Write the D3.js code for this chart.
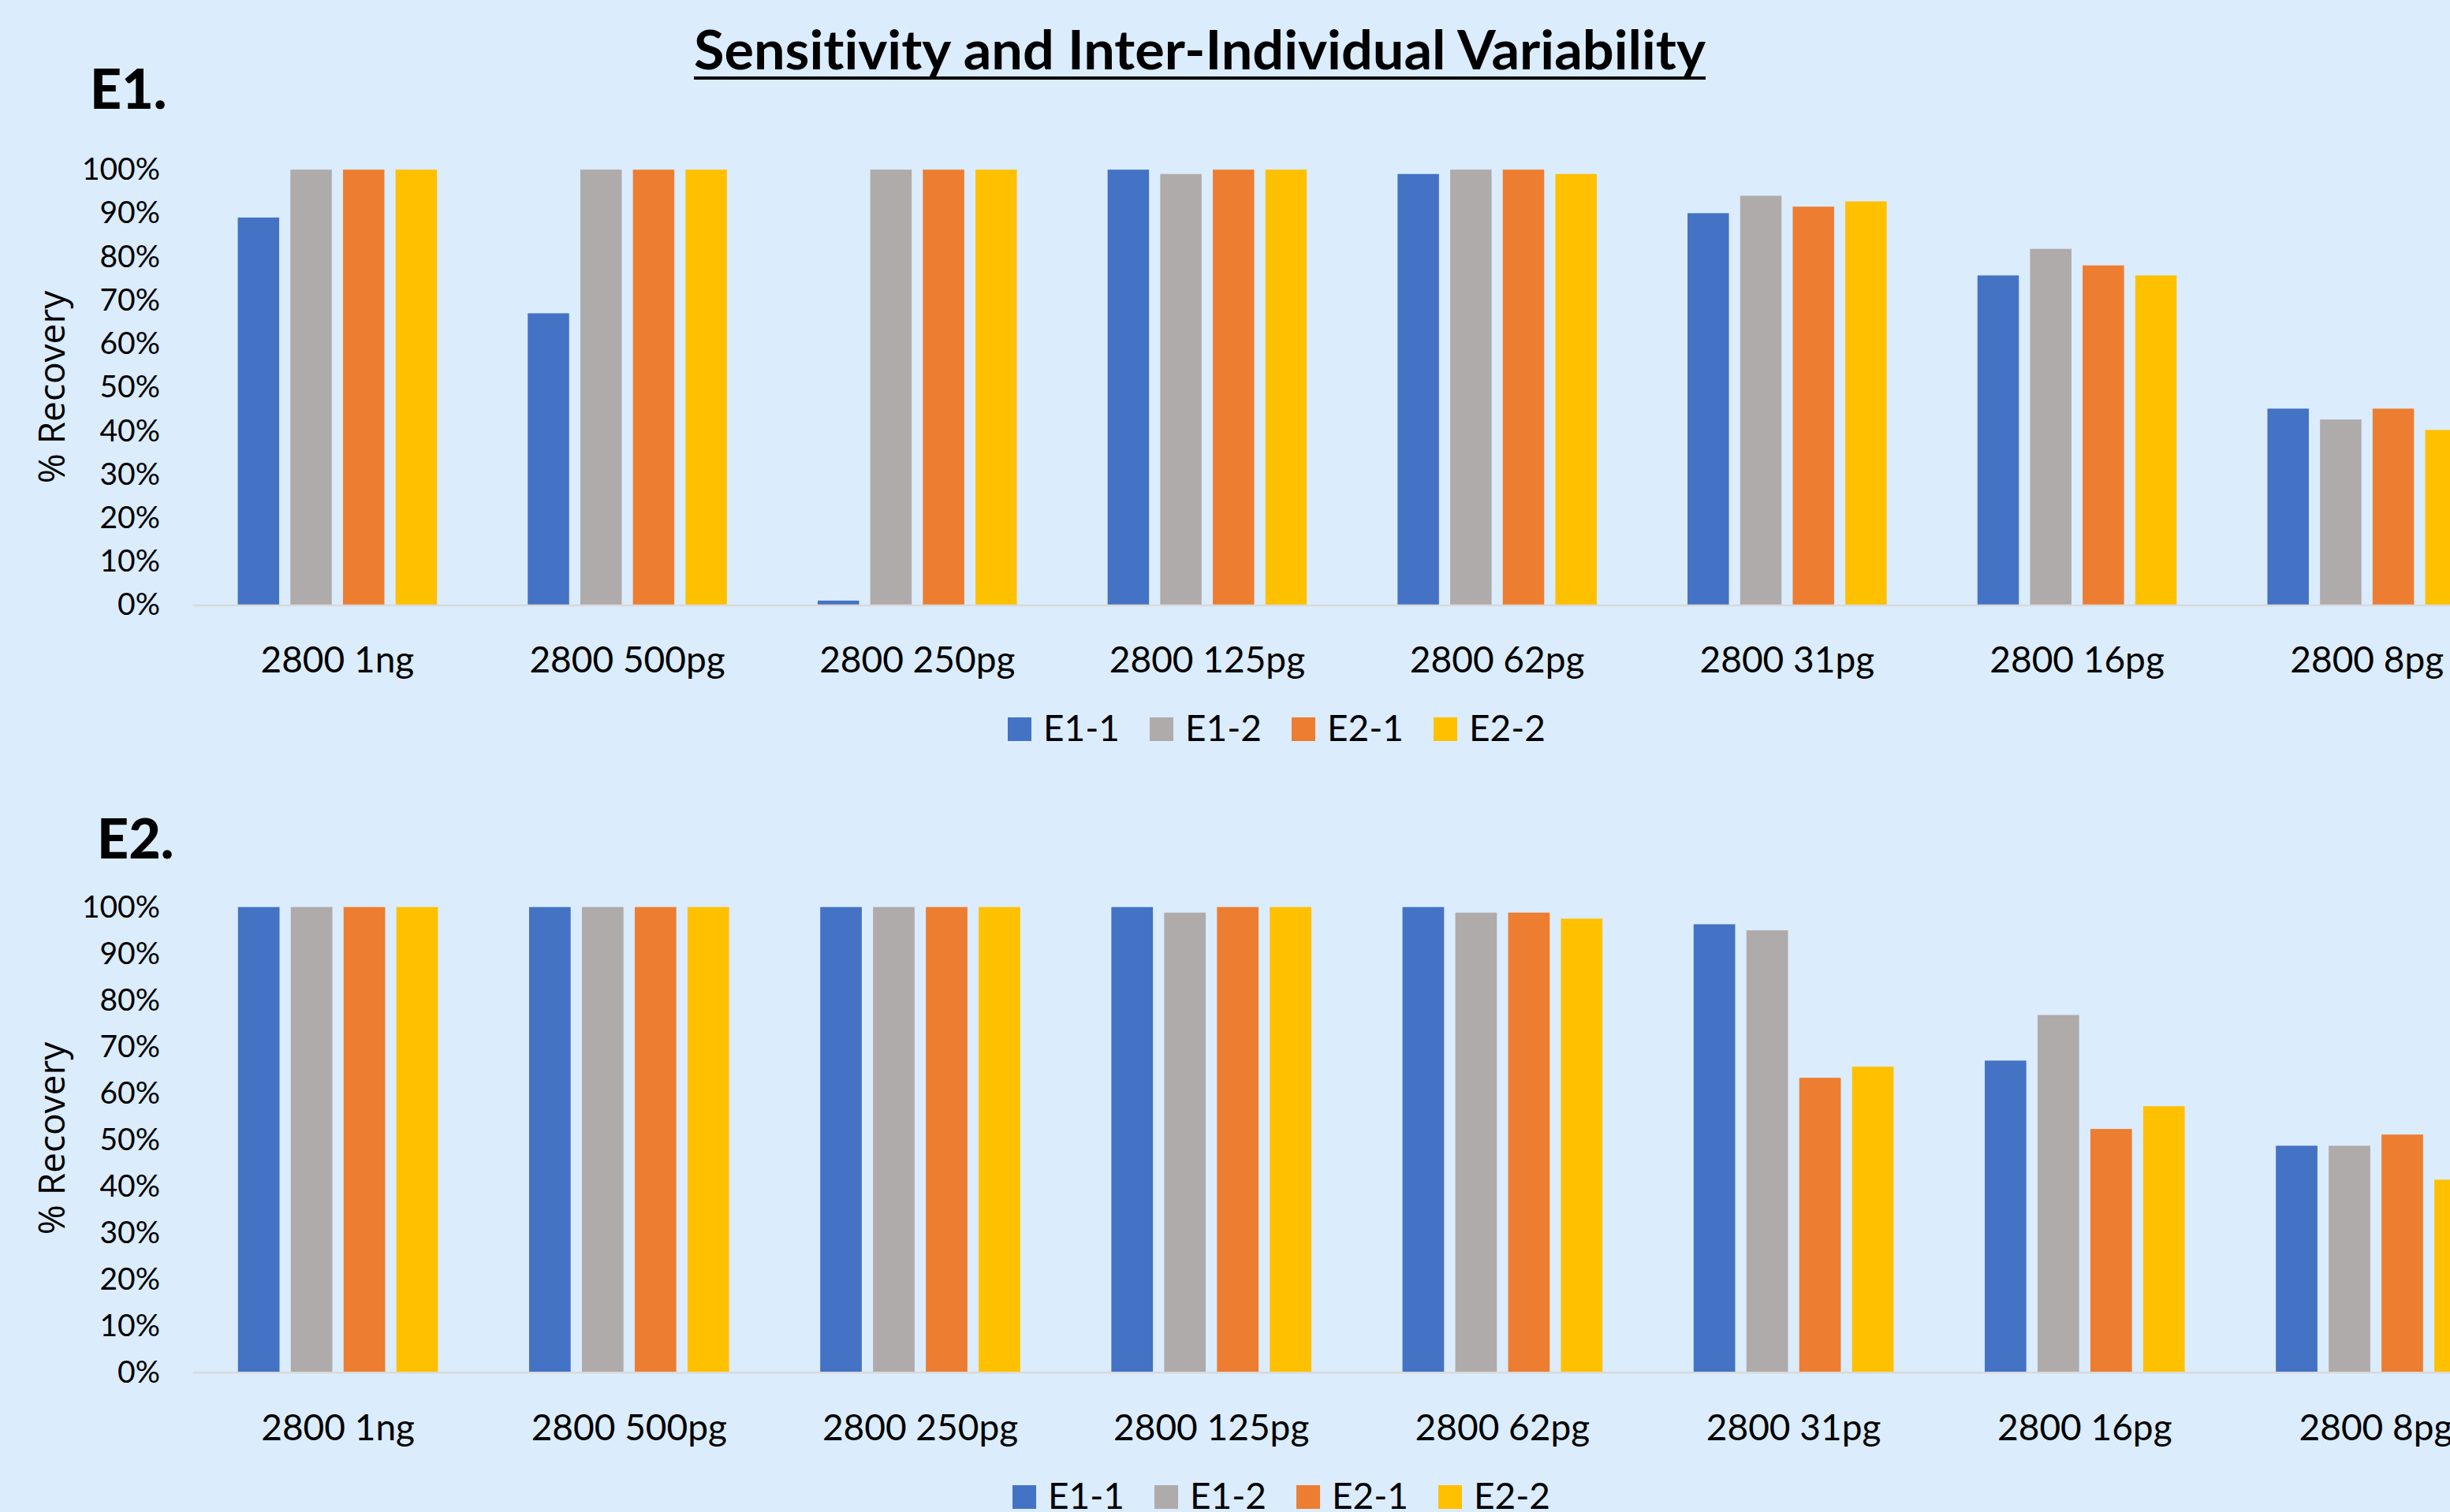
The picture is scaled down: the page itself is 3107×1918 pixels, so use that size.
<!DOCTYPE html>
<html>
<head>
<meta charset="utf-8">
<script src="https://cdn.jsdelivr.net/npm/d3@7"></script>
<style>
  html, body { margin: 0; padding: 0; background: #DBECFC; }
  svg { display: block; }
  text { font-variant-ligatures: none; }
</style>
</head>
<body>
<svg id="chart" width="3107" height="1918"></svg>
<script>
// categories and series
const categories = ["2800 1ng", "2800 500pg", "2800 250pg", "2800 125pg", "2800 62pg", "2800 31pg", "2800 16pg", "2800 8pg"];
const seriesNames = ["E1-1", "E1-2", "E2-1", "E2-2"];
const seriesColors = ["#4472C4", "#AFABAB", "#ED7D31", "#FFC000"];

// % recovery, panel E1 (one array per series, in category order)
const e1_E11 = [0.89, 0.67, 0.01, 1.00, 0.99, 0.90, 0.757, 0.451];
const e1_E12 = [1.00, 1.00, 1.00, 0.99, 1.00, 0.94, 0.818, 0.426];
const e1_E21 = [1.00, 1.00, 1.00, 1.00, 1.00, 0.915, 0.78, 0.451];
const e1_E22 = [1.00, 1.00, 1.00, 1.00, 0.99, 0.927, 0.757, 0.402];

// % recovery, panel E2
const e2_E11 = [1.00, 1.00, 1.00, 1.00, 1.00, 0.963, 0.67, 0.487];
const e2_E12 = [1.00, 1.00, 1.00, 0.988, 0.988, 0.95, 0.768, 0.487];
const e2_E21 = [1.00, 1.00, 1.00, 1.00, 0.988, 0.633, 0.523, 0.511];
const e2_E22 = [1.00, 1.00, 1.00, 1.00, 0.975, 0.657, 0.572, 0.414];

const yTicks = [0, 0.1, 0.2, 0.3, 0.4, 0.5, 0.6, 0.7, 0.8, 0.9, 1.0];

const mainTitle = "Sensitivity and Inter-Individual Variability";
const yLabel = "% Recovery";

// layout of the two panels
const panels = [
  { tag: "E1.", series: [e1_E11, e1_E12, e1_E21, e1_E22],
    top: 215.2, bottom: 767.4, left: 244, step: 367.7,
    tagX: 114, tagY: 138, yLabelY: 491, legendX: 1278, legendY: 910 },
  { tag: "E2.", series: [e2_E11, e2_E12, e2_E21, e2_E22],
    top: 1150.6, bottom: 1740.8, left: 244, step: 369.2,
    tagX: 123, tagY: 1089, yLabelY: 1444, legendX: 1284, legendY: 1884 }
];

const svg = d3.select("#chart");
const W = +svg.attr("width");

svg.append("rect")
  .attr("width", W)
  .attr("height", +svg.attr("height"))
  .attr("fill", "#DBECFC");

// title, squeezed to the width it has in the picture
svg.append("text")
  .attr("x", 1521.5)
  .attr("y", 88)
  .attr("text-anchor", "middle")
  .style("font-family", "Lato, sans-serif")
  .style("font-weight", 700)
  .style("font-size", "68px")
  .attr("textLength", 1283)
  .attr("lengthAdjust", "spacingAndGlyphs")
  .text(mainTitle);

svg.append("line")
  .attr("x1", 880).attr("x2", 2163)
  .attr("y1", 99).attr("y2", 99)
  .attr("stroke", "#000")
  .attr("stroke-width", 4);

panels.forEach(function (p) {
  const g = svg.append("g");

  const x0 = d3.scaleBand()
    .domain(categories)
    .range([p.left, p.left + p.step * categories.length])
    .paddingInner(0.313)
    .paddingOuter(0.1565);

  const x1 = d3.scaleBand()
    .domain(seriesNames)
    .range([0, x0.bandwidth()])
    .paddingInner(0.213);

  const y = d3.scaleLinear()
    .domain([0, 1])
    .range([p.bottom, p.top]);

  // rows of {cat, name, value}
  const rows = categories.map(function (c, i) {
    return seriesNames.map(function (s, j) {
      return { cat: c, name: s, value: p.series[j][i], color: seriesColors[j] };
    });
  });

  // y axis labels only, no line
  const yAxis = g.append("g")
    .attr("transform", "translate(" + p.left + ",0)")
    .call(d3.axisLeft(y).tickValues(yTicks).tickFormat(d3.format(".0%")).tickSize(0).tickPadding(41));
  yAxis.select(".domain").remove();
  yAxis.selectAll("text")
    .attr("dy", "0.32em")
    .style("font-family", "Lato, sans-serif")
    .style("font-size", "39px")
    .attr("fill", "#000");

  // bars
  g.append("g")
    .selectAll("g")
    .data(rows)
    .join("g")
    .attr("transform", d => "translate(" + x0(d[0].cat) + ",0)")
    .selectAll("rect")
    .data(d => d)
    .join("rect")
    .attr("x", d => x1(d.name))
    .attr("y", d => y(d.value))
    .attr("width", x1.bandwidth())
    .attr("height", d => y(0) - y(d.value))
    .attr("fill", d => d.color);

  // category axis
  const xAxis = g.append("g")
    .attr("transform", "translate(0," + p.bottom + ")")
    .call(d3.axisBottom(x0).tickSize(0).tickSizeOuter(0));
  xAxis.select(".domain")
    .attr("stroke", "#D9D9D9")
    .attr("stroke-width", 2.5);
  xAxis.selectAll("text")
    .attr("dy", null)
    .attr("y", 86)
    .style("font-family", "Lato, sans-serif")
    .style("font-size", "46px")
    .attr("fill", "#000");

  // y axis title
  g.append("text")
    .attr("transform", "translate(82," + p.yLabelY + ") rotate(-90)")
    .attr("text-anchor", "middle")
    .style("font-family", "'Open Sans', sans-serif")
    .style("font-size", "46px")
    .text(yLabel);

  // panel tag
  g.append("text")
    .attr("x", p.tagX)
    .attr("y", p.tagY)
    .style("font-family", "Lato, sans-serif")
    .style("font-weight", 900)
    .style("font-size", "70px")
    .text(p.tag);

  // legend
  const legend = g.append("g")
    .selectAll("g")
    .data(seriesNames)
    .join("g")
    .attr("transform", (d, i) => "translate(" + (p.legendX + i * 180) + "," + p.legendY + ")");
  legend.append("rect")
    .attr("width", 30)
    .attr("height", 30)
    .attr("fill", (d, i) => seriesColors[i]);
  legend.append("text")
    .attr("x", 45)
    .attr("y", 30)
    .style("font-family", "Lato, sans-serif")
    .style("font-size", "46px")
    .text(d => d);
});
</script>
</body>
</html>
